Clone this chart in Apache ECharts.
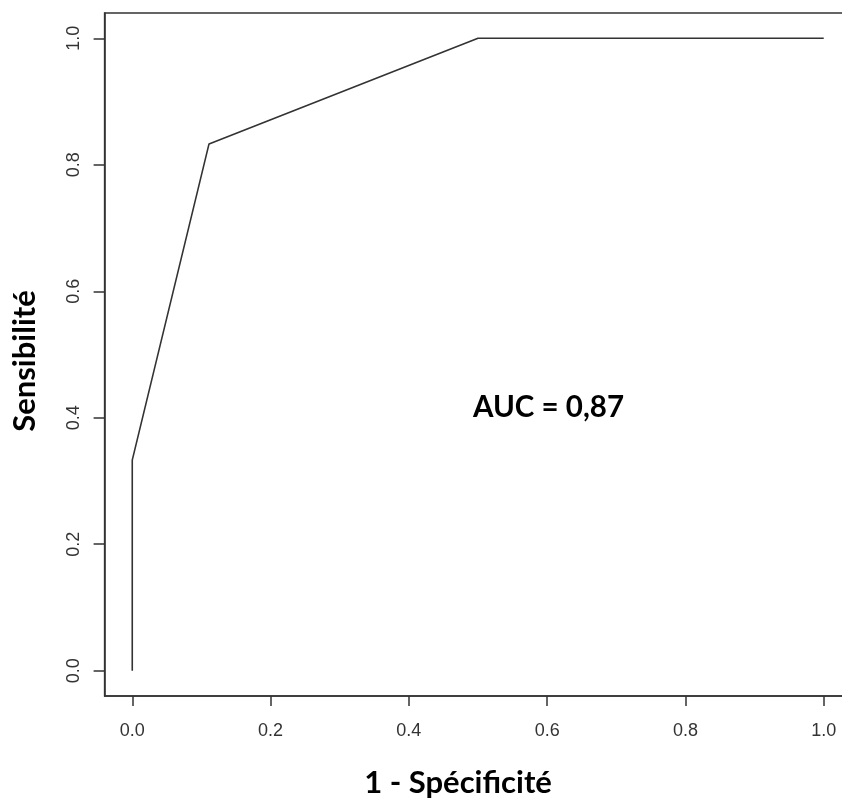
<!DOCTYPE html>
<html>
<head>
<meta charset="utf-8">
<script src="https://cdn.jsdelivr.net/npm/echarts@6/dist/echarts.min.js"></script>
<style>
html,body{margin:0;padding:0;background:#fff;}
#chart{width:842px;height:803px;}
</style>
</head>
<body>
<div id="chart"></div>
<script>
// ROC curve points (1 - specificity, sensitivity)
const fpr = [0, 0, 0.111, 0.5, 1.0];
const tpr = [0, 0.333, 0.833, 1.0, 1.0];
const xTicks = [0, 0.2, 0.4, 0.6, 0.8, 1.0];
const yTicks = [0, 0.2, 0.4, 0.6, 0.8, 1.0];
const xTitle = '1 - Spécificité';
const yTitle = 'Sensibilité';
const aucText = 'AUC = 0,87';

const chart = echarts.init(document.getElementById('chart'));
const tickFont = {fontFamily: 'Liberation Sans', fontSize: 18, color: '#333'};
const titleFont = {fontFamily: 'Lato', fontWeight: 'bold', fontSize: 31, color: '#000'};

chart.setOption({
  animation: false,
  backgroundColor: '#fff',
  grid: {left: 104.6, top: 13, right: -9.4, bottom: 107, containLabel: false, outerBoundsMode: 'none',
         show: true, borderColor: '#333', borderWidth: 1.5, backgroundColor: 'transparent'},
  xAxis: {
    type: 'value', min: -0.04, max: 1.04,
    name: xTitle, nameLocation: 'middle', nameGap: 71,
    nameTextStyle: Object.assign({}, titleFont, {padding: [0, 40, 0, 0]}),
    axisLine: {show: true, onZero: false, lineStyle: {color: '#333', width: 1.5}},
    axisTick: {show: true, customValues: xTicks, length: 10, lineStyle: {color: '#333', width: 1.5}},
    axisLabel: Object.assign({customValues: xTicks, margin: 26, formatter: v => v.toFixed(1)}, tickFont),
    splitLine: {show: false}
  },
  yAxis: {
    type: 'value', min: -0.04, max: 1.04,
    name: yTitle, nameLocation: 'middle', nameGap: 64, nameRotate: 90,
    nameTextStyle: Object.assign({}, titleFont, {padding: [0, 13, 0, 0]}),
    axisLine: {show: true, onZero: false, lineStyle: {color: '#333', width: 1.5}},
    axisTick: {show: true, customValues: yTicks, length: 11, lineStyle: {color: '#333', width: 1.5}},
    axisLabel: Object.assign({customValues: yTicks, margin: 22, rotate: 90, formatter: v => v.toFixed(1)}, tickFont),
    splitLine: {show: false}
  },
  series: [{
    type: 'line',
    data: fpr.map((x, i) => [x, tpr[i]]),
    showSymbol: false,
    lineStyle: {color: '#333', width: 1.6},
    silent: true
  }],
  graphic: [{
    type: 'text',
    left: 473, top: 392,
    style: {text: aucText, font: 'bold 29.5px Lato', fill: '#000'}
  }]
});
</script>
</body>
</html>
